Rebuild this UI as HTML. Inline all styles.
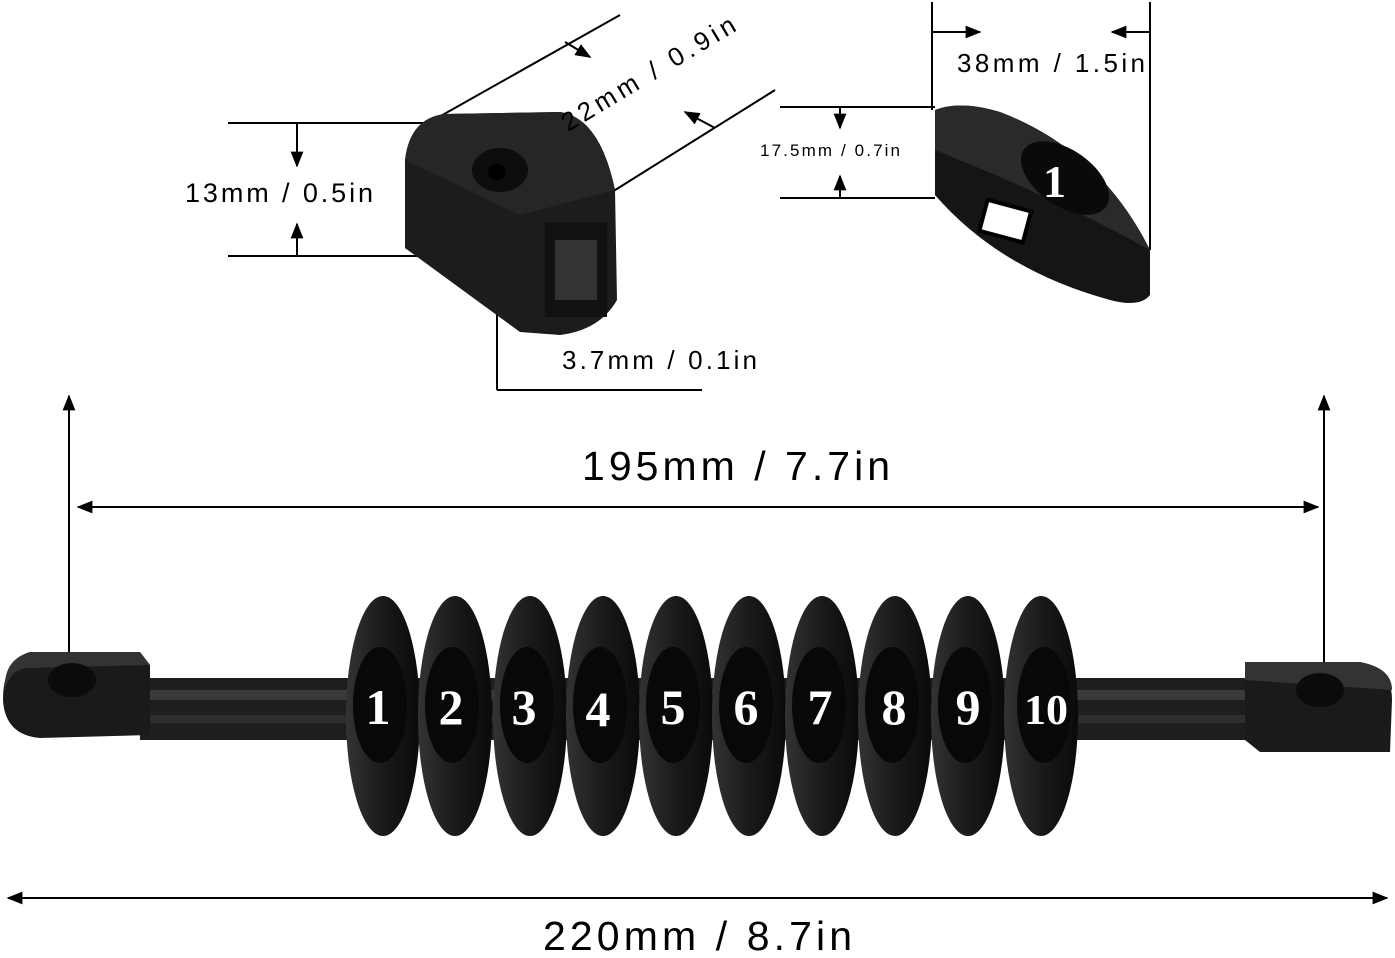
<!DOCTYPE html>
<html><head><meta charset="utf-8"><style>
html,body{margin:0;padding:0;background:#fff;}
svg{display:block;font-family:"Liberation Sans",sans-serif;}
</style></head><body>
<svg width="1395" height="958" viewBox="0 0 1395 958" xmlns="http://www.w3.org/2000/svg">
<defs>
<marker id="ah" viewBox="0 0 10 10" refX="9" refY="5" markerWidth="8" markerHeight="8" orient="auto-start-reverse"><path d="M0,1 L10,5 L0,9 z" fill="#000"/></marker>
<linearGradient id="cg" x1="0" x2="1"><stop offset="0" stop-color="#333"/><stop offset="0.5" stop-color="#1a1a1a"/><stop offset="1" stop-color="#0a0a0a"/></linearGradient>
</defs>
<rect width="1395" height="958" fill="#fff"/>

<!-- top-left end cap -->
<g stroke="#000" stroke-width="2" fill="none">
<line x1="228" y1="123" x2="440" y2="123"/>
<line x1="228" y1="256" x2="440" y2="256"/>
<line x1="297" y1="123" x2="297" y2="166" marker-end="url(#ah)"/>
<line x1="297" y1="256" x2="297" y2="224" marker-end="url(#ah)"/>
<line x1="430" y1="122" x2="620" y2="15"/>
<line x1="612" y1="192" x2="775" y2="90"/>
<line x1="565" y1="42" x2="590" y2="57" marker-end="url(#ah)"/>
<line x1="715" y1="128" x2="685" y2="112" marker-end="url(#ah)"/>
<line x1="497" y1="180" x2="497" y2="390"/>
<line x1="497" y1="390" x2="702" y2="390"/>
</g>
<path d="M405,160 Q410,118 445,114 L560,112 Q600,118 615,190 L617,300 Q600,330 560,335 L520,332 L405,248 Z" fill="#1c1c1c"/>
<path d="M405,160 Q410,118 445,114 L560,112 Q600,118 615,190 L520,215 Z" fill="#262626"/>
<ellipse cx="500" cy="170" rx="28" ry="22" fill="#0d0d0d"/>
<ellipse cx="497" cy="172" rx="9" ry="8" fill="#000"/>
<rect x="545" y="222" width="62" height="95" fill="#111"/>
<rect x="555" y="240" width="42" height="60" fill="#333"/>
<text x="185" y="202" font-size="27" textLength="188" lengthAdjust="spacing">13mm / 0.5in</text>
<text x="0" y="0" font-size="26" textLength="198" lengthAdjust="spacing" transform="translate(568,132) rotate(-31)">22mm / 0.9in</text>
<text x="562" y="369" font-size="26" textLength="195" lengthAdjust="spacing">3.7mm / 0.1in</text>

<!-- top-right counter -->
<g stroke="#000" stroke-width="2" fill="none">
<line x1="932" y1="2" x2="932" y2="110"/>
<line x1="1150" y1="2" x2="1150" y2="250"/>
<line x1="932" y1="32" x2="980" y2="32" marker-end="url(#ah)"/>
<line x1="1150" y1="32" x2="1112" y2="32" marker-end="url(#ah)"/>
<line x1="780" y1="107" x2="935" y2="107"/>
<line x1="780" y1="198" x2="935" y2="198"/>
<line x1="840" y1="107" x2="840" y2="128" marker-end="url(#ah)"/>
<line x1="840" y1="198" x2="840" y2="176" marker-end="url(#ah)"/>
</g>
<path d="M935,110 Q960,100 1000,112 Q1100,150 1150,250 L1150,295 Q1140,308 1110,300 Q1000,270 935,195 Z" fill="#151515"/>
<path d="M935,110 Q960,100 1000,112 Q1100,150 1150,250 Q1060,200 935,150 Z" fill="#2a2a2a"/>
<ellipse cx="1065" cy="178" rx="50" ry="28" transform="rotate(35 1065 178)" fill="#0a0a0a"/>
<text x="1043" y="197" font-size="46" font-family="Liberation Serif,serif" fill="#fff" font-weight="bold">1</text>
<rect x="983" y="205" width="45" height="32" fill="#fff" stroke="#000" stroke-width="4" transform="rotate(15 1005 220)"/>
<text x="957" y="72" font-size="26" textLength="188" lengthAdjust="spacing">38mm / 1.5in</text>
<text x="760" y="156" font-size="17" textLength="140" lengthAdjust="spacing">17.5mm / 0.7in</text>

<!-- main dims -->
<text x="582" y="480" font-size="41" textLength="308" lengthAdjust="spacing">195mm / 7.7in</text>
<g stroke="#000" stroke-width="2" fill="none">
<line x1="78" y1="507" x2="1318" y2="507" marker-start="url(#ah)" marker-end="url(#ah)"/>
<line x1="69" y1="690" x2="69" y2="396" marker-end="url(#ah)"/>
<line x1="1324" y1="690" x2="1324" y2="396" marker-end="url(#ah)"/>
<line x1="8" y1="898" x2="1387" y2="898" marker-start="url(#ah)" marker-end="url(#ah)"/>
</g>
<text x="543" y="950" font-size="41" textLength="309" lengthAdjust="spacing">220mm / 8.7in</text>

<!-- bar -->
<rect x="140" y="678" width="1112" height="62" fill="#1e1e1e"/>
<rect x="140" y="690" width="1112" height="10" fill="#3a3a3a"/>
<rect x="140" y="715" width="1112" height="8" fill="#2e2e2e"/>
<path d="M30,652 L140,652 L150,665 L150,735 L40,738 Q5,735 3,700 Q3,660 30,652 Z" fill="#1a1a1a"/>
<path d="M30,652 L140,652 L150,665 L30,668 Q10,668 5,690 Q3,660 30,652 Z" fill="#333"/>
<ellipse cx="72" cy="680" rx="24" ry="17" fill="#0b0b0b"/>
<path d="M1245,662 L1360,662 Q1392,668 1392,700 L1390,752 L1260,752 L1245,740 Z" fill="#1a1a1a"/>
<path d="M1245,662 L1360,662 Q1392,668 1392,690 L1245,680 Z" fill="#333"/>
<ellipse cx="1320" cy="690" rx="24" ry="17" fill="#0b0b0b"/>

<g font-family="Liberation Serif,serif" font-weight="bold" font-size="50" fill="#fff" text-anchor="middle">
<ellipse cx="383" cy="716" rx="37" ry="120" fill="url(#cg)"/><ellipse cx="380" cy="705" rx="27" ry="58" fill="#080808"/><text x="378" y="724">1</text>
<ellipse cx="455" cy="716" rx="37" ry="120" fill="url(#cg)"/><ellipse cx="452" cy="705" rx="27" ry="58" fill="#080808"/><text x="451" y="724">2</text>
<ellipse cx="530" cy="716" rx="37" ry="120" fill="url(#cg)"/><ellipse cx="527" cy="705" rx="27" ry="58" fill="#080808"/><text x="524" y="724">3</text>
<ellipse cx="603" cy="716" rx="37" ry="120" fill="url(#cg)"/><ellipse cx="600" cy="705" rx="27" ry="58" fill="#080808"/><text x="598" y="726">4</text>
<ellipse cx="676" cy="716" rx="37" ry="120" fill="url(#cg)"/><ellipse cx="673" cy="705" rx="27" ry="58" fill="#080808"/><text x="673" y="724">5</text>
<ellipse cx="749" cy="716" rx="37" ry="120" fill="url(#cg)"/><ellipse cx="746" cy="705" rx="27" ry="58" fill="#080808"/><text x="746" y="724">6</text>
<ellipse cx="822" cy="716" rx="37" ry="120" fill="url(#cg)"/><ellipse cx="819" cy="705" rx="27" ry="58" fill="#080808"/><text x="820" y="724">7</text>
<ellipse cx="895" cy="716" rx="37" ry="120" fill="url(#cg)"/><ellipse cx="892" cy="705" rx="27" ry="58" fill="#080808"/><text x="894" y="724">8</text>
<ellipse cx="968" cy="716" rx="37" ry="120" fill="url(#cg)"/><ellipse cx="965" cy="705" rx="27" ry="58" fill="#080808"/><text x="968" y="724">9</text>
<ellipse cx="1041" cy="716" rx="37" ry="120" fill="url(#cg)"/><ellipse cx="1044" cy="705" rx="27" ry="58" fill="#080808"/><text x="1046" y="724" font-size="42" textLength="44" lengthAdjust="spacingAndGlyphs">10</text>
</g>
</svg>
</body></html>
